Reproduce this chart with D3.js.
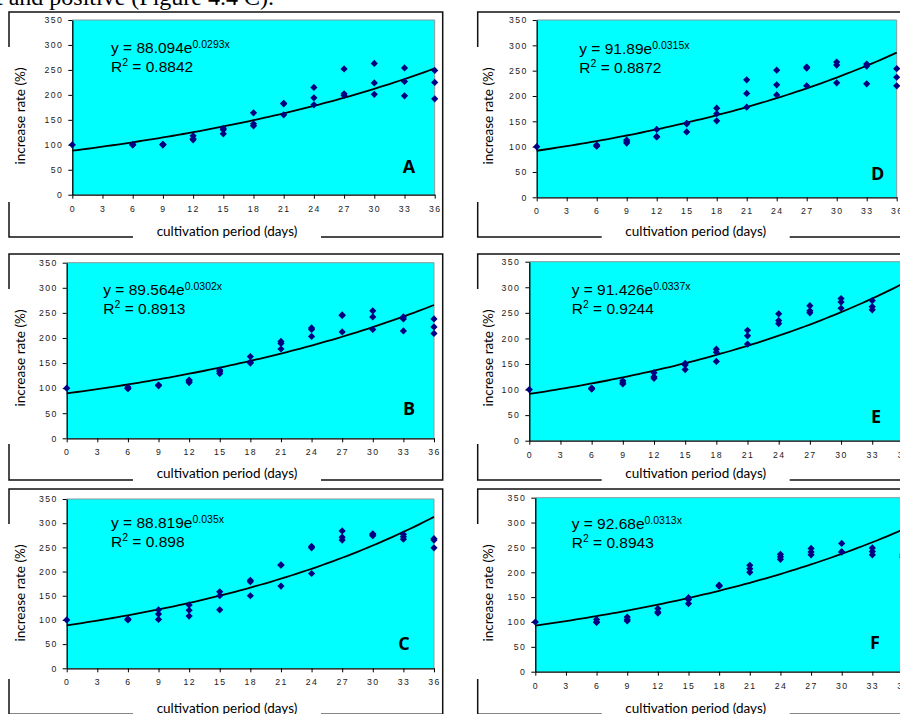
<!DOCTYPE html>
<html>
<head>
<meta charset="utf-8">
<script src="https://cdn.jsdelivr.net/npm/d3@7"></script>
<style>
body { margin: 0; background: #fff; }
svg { display: block; }
</style>
</head>
<body>
<div id="graph"></div>
<script>
// sampling days and axis ticks
var days = [0, 6, 9, 12, 15, 18, 21, 24, 27, 30, 33, 36]
var xTicks = [0, 3, 6, 9, 12, 15, 18, 21, 24, 27, 30, 33, 36]
var yTicks = [0, 50, 100, 150, 200, 250, 300, 350]

// increase rate (%) replicates per day, one array per treatment
var valuesA = [[100], [100, 101, 100], [100, 101, 100], [118, 112, 110], [133, 130, 122], [164, 142, 138], [182, 183, 160], [215, 194, 180], [252, 202, 199], [263, 224, 201], [254, 227, 198], [249, 225, 192]]
var valuesB = [[100], [100, 102, 99], [105, 106, 105], [116, 111, 114], [136, 133, 129], [163, 152, 150], [193, 189, 178], [220, 217, 203], [246, 245, 212], [254, 242, 217], [242, 238, 214], [238, 222, 209]]
var valuesC = [[100], [102, 100, 101], [121, 112, 101], [131, 120, 108], [158, 150, 121], [182, 179, 150], [214, 213, 170], [252, 249, 196], [284, 271, 265], [278, 276, 274], [277, 272, 267], [268, 265, 249]]
var valuesD = [[100], [101, 103, 102], [113, 110, 107], [134, 119, 120], [146, 145, 129], [176, 165, 151], [232, 205, 178], [251, 222, 202], [257, 255, 220], [267, 261, 226], [263, 259, 224], [254, 237, 220]]
var valuesE = [[100], [101, 103, 102], [117, 113, 111], [133, 125, 122], [151, 148, 139], [179, 173, 155], [216, 205, 189], [248, 235, 229], [264, 254, 250], [278, 271, 259], [274, 262, 256], [283, 270, 262]]
var valuesF = [[100], [105, 100, 99], [110, 105, 102], [127, 120, 118], [149, 145, 137], [173, 172, 174], [214, 207, 200], [236, 231, 226], [248, 241, 235], [258, 241, 241], [249, 242, 235], [236, 230, 232]]

// exponential trend lines y = a * e^(b x) and their R2
var fitA = [88.094, 0.0293]
var fitB = [89.564, 0.0302]
var fitC = [88.819, 0.035]
var fitD = [91.89, 0.0315]
var fitE = [91.426, 0.0337]
var fitF = [92.68, 0.0313]
var r2Values = [0.8842, 0.8913, 0.898, 0.8872, 0.9244, 0.8943]
var letters = ['A', 'B', 'C', 'D', 'E', 'F']

// page layout of each panel (frame box, plot box, equation anchor, letter anchor)
var layout = [
	{ frame: [9, 12, 442.7, 237], plot: [72.3, 434.7, 20, 194.7], eq: [111, 53.3], letter: [409, 173] },
	{ frame: [9, 254, 442.7, 480], plot: [66.7, 434, 262.7, 438.3], eq: [103.3, 295], letter: [409, 415] },
	{ frame: [9, 489, 442.7, 714.3], plot: [66.7, 434, 499, 668.3], eq: [111, 528.3], letter: [404, 650] },
	{ frame: [477.7, 12, 915, 237], plot: [536.7, 896.7, 20, 197.3], eq: [579.3, 54], letter: [877.7, 180] },
	{ frame: [477.7, 254, 915, 480], plot: [529.3, 903.4, 261.7, 440.7], eq: [571.7, 295], letter: [876, 422.7] },
	{ frame: [477.7, 489, 915, 714.3], plot: [535.3, 903, 497.7, 671.7], eq: [571.7, 529.3], letter: [875, 649.3] }
]

var allValues = [valuesA, valuesB, valuesC, valuesD, valuesE, valuesF]
var allFits = [fitA, fitB, fitC, fitD, fitE, fitF]

var svg = d3.select('#graph').append('svg')
	.attr('width', 900)
	.attr('height', 714)

// bit of the running text above the figure, cut by the crop
svg.append('text')
	.attr('x', -4)
	.attr('y', 4.5)
	.attr('font-family', 'Liberation Serif, Times New Roman, serif')
	.attr('font-size', 24)
	.attr('fill', '#000')
	.text('t and positive (Figure 4.4 C).')

for (var i = 0; i < 6; i++) {
	drawPanel(i)
}

function drawPanel(i) {
	var lay = layout[i]
	var values = allValues[i]
	var fit = allFits[i]
	var f = lay.frame
	var p = lay.plot
	var g = svg.append('g')

	// outer frame, broken where the axis titles sit
	var path = d3.path()
	path.moveTo(f[0], f[1] + 35)
	path.lineTo(f[0], f[1])
	path.lineTo(f[2], f[1])
	path.lineTo(f[2], f[3])
	path.lineTo(f[0] + 312, f[3])
	path.moveTo(f[0] + 124, f[3])
	path.lineTo(f[0], f[3])
	path.lineTo(f[0], f[1] + 190)
	g.append('path')
		.attr('d', path.toString())
		.attr('fill', 'none')
		.attr('stroke', '#111')
		.attr('stroke-width', 1.5)

	var xScale = d3.scaleLinear().domain([0, 36]).range([p[0], p[1]])
	var yScale = d3.scaleLinear().domain([0, 350]).range([p[3], p[2]])

	g.append('rect')
		.attr('x', p[0])
		.attr('y', p[2])
		.attr('width', p[1] - p[0])
		.attr('height', p[3] - p[2])
		.attr('fill', '#00ffff')

	g.append('path')
		.attr('d', 'M' + p[0] + ',' + p[2] + 'H' + p[1] + 'V' + p[3])
		.attr('fill', 'none')
		.attr('stroke', '#8a9a9a')
		.attr('stroke-width', 1)

	g.append('g')
		.attr('transform', 'translate(' + p[0] + ',0)')
		.call(d3.axisLeft(yScale).tickValues(yTicks).tickSize(4).tickSizeOuter(0).tickPadding(5))
	g.append('g')
		.attr('transform', 'translate(0,' + p[3] + ')')
		.call(d3.axisBottom(xScale).tickValues(xTicks).tickSize(4).tickSizeOuter(0).tickPadding(7))

	g.selectAll('.domain').attr('stroke', '#000').attr('stroke-width', 1.3)
	g.selectAll('.tick line').attr('stroke', '#000')
	g.selectAll('.tick text')
		.attr('font-family', 'Liberation Sans, Arial, sans-serif')
		.attr('font-size', 8.7)
		.attr('letter-spacing', 1.4)
		.attr('fill', '#1a1a1a')

	// axis titles
	g.append('text')
		.attr('transform', 'translate(' + (f[0] + 11) + ',' + (f[1] + 104) + ') rotate(-90)')
		.attr('text-anchor', 'middle')
		.attr('dy', '0.35em')
		.attr('font-family', 'Lato, Open Sans, sans-serif')
		.attr('font-size', 13.5)
		.attr('fill', '#000')
		.text('increase rate (%)')

	g.append('text')
		.attr('x', f[0] + 218)
		.attr('y', f[1] + 224)
		.attr('text-anchor', 'middle')
		.attr('font-family', 'Lato, Open Sans, sans-serif')
		.attr('font-size', 13.5)
		.attr('fill', '#000')
		.text('cultivation period (days)')

	// trend line from the fitted equation
	var curveX = d3.range(0, 36.01, 0.5)
	var line = d3.line()
		.x(function(d) { return xScale(d) })
		.y(function(d) { return yScale(fit[0] * Math.exp(fit[1] * d)) })
	g.append('path')
		.datum(curveX)
		.attr('d', line)
		.attr('fill', 'none')
		.attr('stroke', '#000')
		.attr('stroke-width', 1.8)

	// replicate points as diamonds
	var points = []
	days.forEach(function(day, k) {
		values[k].forEach(function(v) { points.push({ day: day, value: v }) })
	})
	var diamond = d3.symbol().type(d3.symbolSquare).size(26)
	g.selectAll('path.pt')
		.data(points)
		.enter().append('path')
		.attr('class', 'pt')
		.attr('d', diamond)
		.attr('transform', function(d) { return 'translate(' + xScale(d.day) + ',' + yScale(d.value) + ') rotate(45)' })
		.attr('fill', '#000080')

	// equation and R2
	var eq = g.append('text')
		.attr('x', lay.eq[0])
		.attr('y', lay.eq[1])
		.attr('font-family', 'Liberation Sans, Arial, sans-serif')
		.attr('font-size', 15.5)
		.attr('fill', '#000')
	eq.append('tspan').text('y = ' + fit[0] + 'e')
	eq.append('tspan').attr('dy', -5.5).attr('font-size', 10.5).text(fit[1] + 'x')

	var r2 = g.append('text')
		.attr('x', lay.eq[0])
		.attr('y', lay.eq[1] + 18.5)
		.attr('font-family', 'Liberation Sans, Arial, sans-serif')
		.attr('font-size', 15.5)
		.attr('fill', '#000')
	r2.append('tspan').text('R')
	r2.append('tspan').attr('dy', -5.5).attr('font-size', 10.5).text('2')
	r2.append('tspan').attr('dy', 5.5).text(' = ' + r2Values[i])

	g.append('text')
		.attr('x', lay.letter[0])
		.attr('y', lay.letter[1])
		.attr('text-anchor', 'middle')
		.attr('font-family', 'Open Sans, Liberation Sans, sans-serif')
		.attr('font-weight', 700)
		.attr('font-size', 18)
		.attr('fill', '#000')
		.text(letters[i])
}
</script>
</body>
</html>
